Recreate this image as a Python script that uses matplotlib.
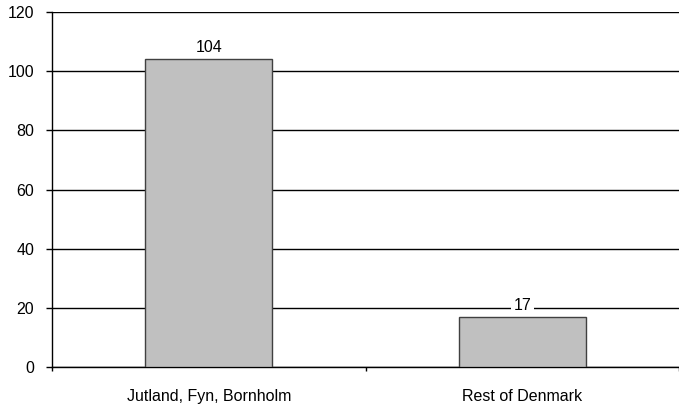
import matplotlib.pyplot as plt

categories = ['Jutland, Fyn, Bornholm', 'Rest of Denmark']
values = [104, 17]
y_ticks = [0, 20, 40, 60, 80, 100, 120]

plt.rcParams['font.family'] = ['Liberation Sans', 'DejaVu Sans']

fig = plt.figure(figsize=(6.79, 4.05), dpi=100)
ax = fig.add_axes([52 / 679, 1 - 367 / 405, 627 / 679, 355 / 405])

x = list(range(len(categories)))
ax.bar(x, values, width=0.404, color='#c0c0c0', edgecolor='#404040',
       linewidth=1, zorder=3)

for xi, v in zip(x, values):
    ax.annotate(str(v), (xi, v), xytext=(0, 3), textcoords='offset points',
                ha='center', va='bottom', fontsize=11.5, zorder=4,
                bbox=dict(boxstyle='square,pad=0.15', fc='white', ec='none'))

ax.set_xlim(-0.5, 1.478)
ax.set_ylim(0, 120)
ax.set_yticks(y_ticks)
ax.yaxis.grid(True, color='black', linewidth=1)
ax.set_axisbelow(True)

ax.set_xticks(x)
ax.set_xticklabels(categories)
ax.set_xticks([-0.5, 0.5, 1.5], minor=True)
ax.tick_params(axis='x', which='major', length=0, pad=16, labelsize=11.5)
ax.tick_params(axis='x', which='minor', length=3, width=1, direction='out')
ax.tick_params(axis='y', length=4.3, width=1, labelsize=11.5, pad=8.6)

for side in ['top', 'right']:
    ax.spines[side].set_visible(False)
for side in ['left', 'bottom']:
    ax.spines[side].set_color('black')
    ax.spines[side].set_linewidth(1)

fig.savefig('out.png', dpi=100)
